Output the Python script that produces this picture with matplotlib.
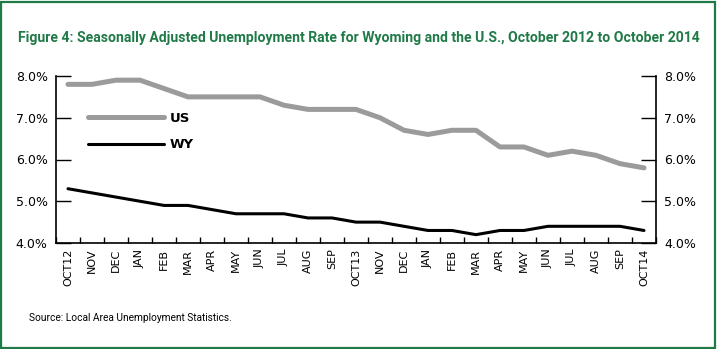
import matplotlib
matplotlib.use("Agg")
import matplotlib.pyplot as plt
from matplotlib.patches import Rectangle
from matplotlib.ticker import FixedLocator, PercentFormatter

months = ["OCT12", "NOV", "DEC", "JAN", "FEB", "MAR", "APR", "MAY", "JUN", "JUL",
          "AUG", "SEP", "OCT13", "NOV", "DEC", "JAN", "FEB", "MAR", "APR", "MAY",
          "JUN", "JUL", "AUG", "SEP", "OCT14"]
us_rate = [7.8, 7.8, 7.9, 7.9, 7.7, 7.5, 7.5, 7.5, 7.5, 7.3, 7.2, 7.2, 7.2,
           7.0, 6.7, 6.6, 6.7, 6.7, 6.3, 6.3, 6.1, 6.2, 6.1, 5.9, 5.8]
wy_rate = [5.3, 5.2, 5.1, 5.0, 4.9, 4.9, 4.8, 4.7, 4.7, 4.7, 4.6, 4.6, 4.5,
           4.5, 4.4, 4.3, 4.3, 4.2, 4.3, 4.3, 4.4, 4.4, 4.4, 4.4, 4.3]
y_ticks = [4.0, 5.0, 6.0, 7.0, 8.0]

green = "#1f7a47"
narrow = ["Roboto", "Liberation Sans", "DejaVu Sans"]


def fit_width(txt, width_px, renderer):
    # shrink the text until it spans the wanted width in pixels
    for _ in range(3):
        w = txt.get_window_extent(renderer).width
        txt.set_fontsize(txt.get_fontsize() * width_px / w)


fig = plt.figure(figsize=(7.17, 3.49), dpi=100)
fig.patches.append(Rectangle((0.002, 0.003), 0.995, 0.992, transform=fig.transFigure,
                             fill=False, edgecolor=green, linewidth=1.6))

title = fig.text(0.025, 0.892, "Figure 4: Seasonally Adjusted Unemployment Rate for Wyoming and the U.S., October 2012 to October 2014",
                 color=green, fontsize=10, fontweight="bold", family=narrow, va="center", ha="left")
source = fig.text(0.040, 0.088, "Source: Local Area Unemployment Statistics.",
                  fontsize=8, family=narrow, va="center", ha="left")

ax = fig.add_axes([56 / 717, 1 - 243 / 349, 600 / 717, 167 / 349])
x = list(range(len(months)))
ax.plot(x, us_rate, color="#9b9b9b", linewidth=3.6, label="US", solid_capstyle="round")
ax.plot(x, wy_rate, color="black", linewidth=2.2, label="WY", solid_capstyle="round")

ax.set_xlim(-0.5, len(months) - 0.5)
ax.set_ylim(4.0, 8.0)
ax.spines["top"].set_visible(False)
for s in ["left", "right", "bottom"]:
    ax.spines[s].set_linewidth(1.2)

ax.set_yticks(y_ticks)
ax.yaxis.set_major_formatter(PercentFormatter(decimals=1))
ax.tick_params(axis="y", which="major", direction="in", length=11, width=1,
               left=True, right=True, labelleft=True, labelright=True,
               labelsize=9, pad=6)

# ticks between categories, labels centred on categories
ax.xaxis.set_major_locator(FixedLocator([i - 0.5 for i in range(len(months) + 1)]))
ax.xaxis.set_minor_locator(FixedLocator(x))
ax.set_xticklabels([])
ax.set_xticklabels(months, minor=True, rotation=90, fontsize=8)
ax.tick_params(axis="x", which="major", direction="in", length=4, width=1)
ax.tick_params(axis="x", which="minor", length=0, pad=4)

ax.legend(loc="upper left", bbox_to_anchor=(0.033, 0.855), frameon=False,
          handlelength=5.8, handletextpad=0.4, labelspacing=1.0,
          prop={"weight": "bold", "size": 9.5})

r = fig.canvas.get_renderer()
fit_width(title, 680, r)
fit_width(source, 202, r)

fig.savefig("out.png", dpi=100)
